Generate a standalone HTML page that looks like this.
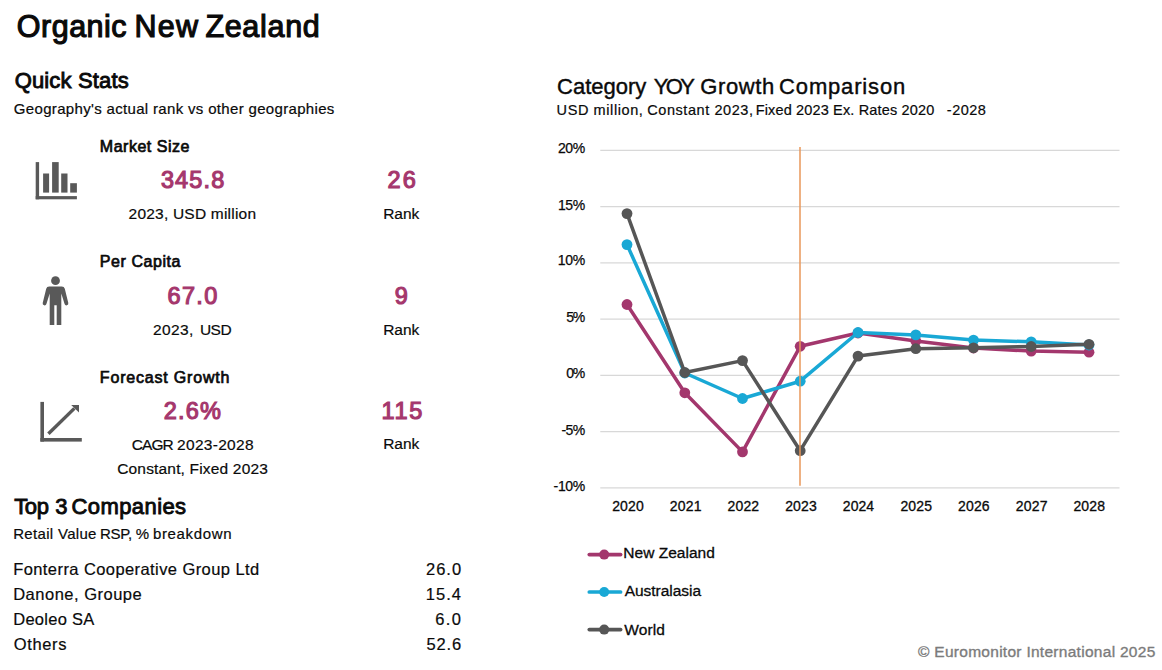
<!DOCTYPE html>
<html lang="en">
<head>
<meta charset="utf-8">
<title>Organic New Zealand</title>
<style>
html,body{margin:0;padding:0;background:#ffffff;}
body{width:1162px;height:670px;position:relative;overflow:hidden;font-family:"Liberation Sans",sans-serif;}
.chart{position:absolute;left:0;top:0;}
.t{position:absolute;white-space:pre;line-height:1;font-family:"Liberation Sans",sans-serif;}
</style>
</head>
<body>
<svg class="chart" width="1162" height="670" viewBox="0 0 1162 670">
<line x1="600.3" x2="1119.5" y1="150.4" y2="150.4" stroke="#d8d8d8" stroke-width="1.25"/>
<line x1="600.3" x2="1119.5" y1="206.65" y2="206.65" stroke="#d8d8d8" stroke-width="1.25"/>
<line x1="600.3" x2="1119.5" y1="262.9" y2="262.9" stroke="#d8d8d8" stroke-width="1.25"/>
<line x1="600.3" x2="1119.5" y1="319.15" y2="319.15" stroke="#d8d8d8" stroke-width="1.25"/>
<line x1="600.3" x2="1119.5" y1="375.4" y2="375.4" stroke="#d8d8d8" stroke-width="1.25"/>
<line x1="600.3" x2="1119.5" y1="431.65" y2="431.65" stroke="#d8d8d8" stroke-width="1.25"/>
<line x1="600.3" x2="1119.5" y1="487.9" y2="487.9" stroke="#d8d8d8" stroke-width="1.25"/>
<polyline points="627.0,304.5 684.8,392.8 742.5,451.9 800.2,346.3 858.0,333.0 915.8,341.0 973.5,348.0 1031.2,351.1 1089.0,352.2" fill="none" stroke="#a3376d" stroke-width="3.5" stroke-linejoin="round" stroke-linecap="round"/>
<circle cx="627.0" cy="304.5" r="5.4" fill="#a3376d"/>
<circle cx="684.8" cy="392.8" r="5.4" fill="#a3376d"/>
<circle cx="742.5" cy="451.9" r="5.4" fill="#a3376d"/>
<circle cx="800.2" cy="346.3" r="5.4" fill="#a3376d"/>
<circle cx="858.0" cy="333.0" r="5.4" fill="#a3376d"/>
<circle cx="915.8" cy="341.0" r="5.4" fill="#a3376d"/>
<circle cx="973.5" cy="348.0" r="5.4" fill="#a3376d"/>
<circle cx="1031.2" cy="351.1" r="5.4" fill="#a3376d"/>
<circle cx="1089.0" cy="352.2" r="5.4" fill="#a3376d"/>
<polyline points="627.0,244.6 684.8,373.0 742.5,398.5 800.2,381.2 858.0,332.5 915.8,334.9 973.5,340.1 1031.2,341.8 1089.0,345.0" fill="none" stroke="#19a8d5" stroke-width="3.5" stroke-linejoin="round" stroke-linecap="round"/>
<circle cx="627.0" cy="244.6" r="5.4" fill="#19a8d5"/>
<circle cx="684.8" cy="373.0" r="5.4" fill="#19a8d5"/>
<circle cx="742.5" cy="398.5" r="5.4" fill="#19a8d5"/>
<circle cx="800.2" cy="381.2" r="5.4" fill="#19a8d5"/>
<circle cx="858.0" cy="332.5" r="5.4" fill="#19a8d5"/>
<circle cx="915.8" cy="334.9" r="5.4" fill="#19a8d5"/>
<circle cx="973.5" cy="340.1" r="5.4" fill="#19a8d5"/>
<circle cx="1031.2" cy="341.8" r="5.4" fill="#19a8d5"/>
<circle cx="1089.0" cy="345.0" r="5.4" fill="#19a8d5"/>
<polyline points="627.0,213.6 684.8,372.5 742.5,360.6 800.2,450.7 858.0,356.1 915.8,348.7 973.5,347.8 1031.2,346.5 1089.0,344.3" fill="none" stroke="#565656" stroke-width="3.5" stroke-linejoin="round" stroke-linecap="round"/>
<circle cx="627.0" cy="213.6" r="5.4" fill="#565656"/>
<circle cx="684.8" cy="372.5" r="5.4" fill="#565656"/>
<circle cx="742.5" cy="360.6" r="5.4" fill="#565656"/>
<circle cx="800.2" cy="450.7" r="5.4" fill="#565656"/>
<circle cx="858.0" cy="356.1" r="5.4" fill="#565656"/>
<circle cx="915.8" cy="348.7" r="5.4" fill="#565656"/>
<circle cx="973.5" cy="347.8" r="5.4" fill="#565656"/>
<circle cx="1031.2" cy="346.5" r="5.4" fill="#565656"/>
<circle cx="1089.0" cy="344.3" r="5.4" fill="#565656"/>
<line x1="800" x2="800" y1="147" y2="485.7" stroke="#e8975a" stroke-width="1.5"/>
<line x1="589.3" x2="620.6" y1="554.6" y2="554.6" stroke="#a3376d" stroke-width="3.7" stroke-linecap="round"/>
<circle cx="604.2" cy="554.6" r="5" fill="#a3376d"/>
<line x1="589.3" x2="620.6" y1="592.0" y2="592.0" stroke="#19a8d5" stroke-width="3.7" stroke-linecap="round"/>
<circle cx="604.2" cy="592.0" r="5" fill="#19a8d5"/>
<line x1="589.3" x2="620.6" y1="629.6" y2="629.6" stroke="#565656" stroke-width="3.7" stroke-linecap="round"/>
<circle cx="604.2" cy="629.6" r="5" fill="#565656"/>
<g fill="#595959"><rect x="35.7" y="162.1" width="3.4" height="37.2"/><rect x="35.7" y="196.1" width="41.2" height="3.2"/><rect x="43.1" y="173.5" width="6" height="19.1"/><rect x="52.1" y="162.1" width="6.6" height="30.5"/><rect x="61.2" y="173.5" width="6.3" height="19.1"/><rect x="70.2" y="183.2" width="6.7" height="9.4"/></g>
<g fill="#595959"><circle cx="55.5" cy="280.7" r="4.4"/><path d="M49.2 286.4 H61.8 Q64.2 286.4 64.8 288.8 L68.3 303 Q68.6 304.9 66.9 305.3 Q65.2 305.7 64.6 304 L61.3 293.5 V325 H56.7 V305.2 H54.3 V325 H49.7 V293.5 L46.4 304 Q45.8 305.7 44.1 305.3 Q42.4 304.9 42.7 303 L46.2 288.8 Q46.8 286.4 49.2 286.4 Z"/></g>
<g fill="#595959"><rect x="40.4" y="401.9" width="3.6" height="39.7"/><rect x="40.4" y="438" width="41.4" height="3.6"/><path d="M47.2 432.5 L49.6 434.9 L75.6 409.6 L73.2 407.2 Z"/><path d="M71.2 405 H79 V412.6 Z"/></g>
</svg>
<span class="t" style="left:16.78px;top:11px;font-size:30.5px;letter-spacing:0.508px;color:#0a0a0a;-webkit-text-stroke:1.15px #0a0a0a;">Organic</span>
<span class="t" style="left:134.38px;top:11px;font-size:30.5px;letter-spacing:1.275px;color:#0a0a0a;-webkit-text-stroke:1.15px #0a0a0a;">New</span>
<span class="t" style="left:205.38px;top:11px;font-size:30.5px;letter-spacing:0.692px;color:#0a0a0a;-webkit-text-stroke:1.15px #0a0a0a;">Zealand</span>
<span class="t" style="left:14.65px;top:70px;font-size:22px;letter-spacing:0.160px;color:#0a0a0a;-webkit-text-stroke:0.9px #0a0a0a;">Quick Stats</span>
<span class="t" style="left:13.80px;top:101px;font-size:15px;letter-spacing:0.330px;color:#0a0a0a;-webkit-text-stroke:0.2px #0a0a0a;">Geography's actual rank vs other geographies</span>
<span class="t" style="left:99.85px;top:139px;font-size:16px;letter-spacing:0.510px;color:#0a0a0a;-webkit-text-stroke:0.7px #0a0a0a;">Market Size</span>
<span class="t" style="left:160.88px;top:169px;font-size:23.5px;letter-spacing:1.163px;color:#a5376d;-webkit-text-stroke:1.15px #a5376d;">345.8</span>
<span class="t" style="left:387.38px;top:169px;font-size:23.5px;letter-spacing:2.250px;color:#a5376d;-webkit-text-stroke:1.15px #a5376d;">26</span>
<span class="t" style="left:128.60px;top:206px;font-size:15.5px;letter-spacing:0.212px;color:#0a0a0a;-webkit-text-stroke:0.2px #0a0a0a;">2023, USD million</span>
<span class="t" style="left:383.20px;top:206px;font-size:15.5px;letter-spacing:-0.033px;color:#0a0a0a;-webkit-text-stroke:0.2px #0a0a0a;">Rank</span>
<span class="t" style="left:99.85px;top:254px;font-size:16px;letter-spacing:0.556px;color:#0a0a0a;-webkit-text-stroke:0.7px #0a0a0a;">Per Capita</span>
<span class="t" style="left:167.57px;top:285px;font-size:23.5px;letter-spacing:1.317px;color:#a5376d;-webkit-text-stroke:1.15px #a5376d;">67.0</span>
<span class="t" style="left:394.78px;top:285px;font-size:23.5px;letter-spacing:0.000px;color:#a5376d;-webkit-text-stroke:1.15px #a5376d;">9</span>
<span class="t" style="left:153.10px;top:322px;font-size:15.5px;letter-spacing:0.350px;color:#0a0a0a;-webkit-text-stroke:0.2px #0a0a0a;">2023,</span>
<span class="t" style="left:199.90px;top:322px;font-size:15.5px;letter-spacing:-0.500px;color:#0a0a0a;-webkit-text-stroke:0.2px #0a0a0a;">USD</span>
<span class="t" style="left:383.20px;top:322px;font-size:15.5px;letter-spacing:-0.033px;color:#0a0a0a;-webkit-text-stroke:0.2px #0a0a0a;">Rank</span>
<span class="t" style="left:99.85px;top:370px;font-size:16px;letter-spacing:0.807px;color:#0a0a0a;-webkit-text-stroke:0.7px #0a0a0a;">Forecast Growth</span>
<span class="t" style="left:163.68px;top:400px;font-size:23.5px;letter-spacing:1.217px;color:#a5376d;-webkit-text-stroke:1.15px #a5376d;">2.6%</span>
<span class="t" style="left:381.57px;top:400px;font-size:23.5px;letter-spacing:1.675px;color:#a5376d;-webkit-text-stroke:1.15px #a5376d;">115</span>
<span class="t" style="left:131.70px;top:437px;font-size:15.5px;letter-spacing:-0.900px;color:#0a0a0a;-webkit-text-stroke:0.2px #0a0a0a;">CAGR</span>
<span class="t" style="left:177.10px;top:437px;font-size:15.5px;letter-spacing:0.287px;color:#0a0a0a;-webkit-text-stroke:0.2px #0a0a0a;">2023-2028</span>
<span class="t" style="left:383.20px;top:436px;font-size:15.5px;letter-spacing:-0.033px;color:#0a0a0a;-webkit-text-stroke:0.2px #0a0a0a;">Rank</span>
<span class="t" style="left:117.20px;top:461px;font-size:15.5px;letter-spacing:0.174px;color:#0a0a0a;-webkit-text-stroke:0.2px #0a0a0a;">Constant, Fixed 2023</span>
<span class="t" style="left:14.25px;top:496px;font-size:22px;letter-spacing:-0.400px;color:#0a0a0a;-webkit-text-stroke:0.9px #0a0a0a;">Top</span>
<span class="t" style="left:55.25px;top:496px;font-size:22px;letter-spacing:0.000px;color:#0a0a0a;-webkit-text-stroke:0.9px #0a0a0a;">3</span>
<span class="t" style="left:71.45px;top:496px;font-size:22px;letter-spacing:0.425px;color:#0a0a0a;-webkit-text-stroke:0.9px #0a0a0a;">Companies</span>
<span class="t" style="left:13.20px;top:526px;font-size:15px;letter-spacing:0.318px;color:#0a0a0a;-webkit-text-stroke:0.2px #0a0a0a;">Retail Value</span>
<span class="t" style="left:100.00px;top:526px;font-size:15px;letter-spacing:-0.267px;color:#0a0a0a;-webkit-text-stroke:0.2px #0a0a0a;">RSP,</span>
<span class="t" style="left:135.80px;top:526px;font-size:15px;letter-spacing:0.000px;color:#0a0a0a;-webkit-text-stroke:0.2px #0a0a0a;">%</span>
<span class="t" style="left:152.90px;top:526px;font-size:15px;letter-spacing:0.650px;color:#0a0a0a;-webkit-text-stroke:0.2px #0a0a0a;">breakdown</span>
<span class="t" style="left:13.20px;top:561px;font-size:16.5px;letter-spacing:0.417px;color:#0a0a0a;-webkit-text-stroke:0.2px #0a0a0a;">Fonterra Cooperative Group Ltd</span>
<span class="t" style="left:426.00px;top:561px;font-size:16.5px;letter-spacing:1.000px;color:#0a0a0a;-webkit-text-stroke:0.2px #0a0a0a;">26.0</span>
<span class="t" style="left:13.20px;top:586px;font-size:16.5px;letter-spacing:0.500px;color:#0a0a0a;-webkit-text-stroke:0.2px #0a0a0a;">Danone, Groupe</span>
<span class="t" style="left:425.80px;top:586px;font-size:16.5px;letter-spacing:1.000px;color:#0a0a0a;-webkit-text-stroke:0.2px #0a0a0a;">15.4</span>
<span class="t" style="left:13.20px;top:611px;font-size:16.5px;letter-spacing:0.287px;color:#0a0a0a;-webkit-text-stroke:0.2px #0a0a0a;">Deoleo SA</span>
<span class="t" style="left:435.30px;top:611px;font-size:16.5px;letter-spacing:1.400px;color:#0a0a0a;-webkit-text-stroke:0.2px #0a0a0a;">6.0</span>
<span class="t" style="left:13.80px;top:636px;font-size:16.5px;letter-spacing:0.620px;color:#0a0a0a;-webkit-text-stroke:0.2px #0a0a0a;">Others</span>
<span class="t" style="left:426.40px;top:636px;font-size:16.5px;letter-spacing:0.867px;color:#0a0a0a;-webkit-text-stroke:0.2px #0a0a0a;">52.6</span>
<span class="t" style="left:557.10px;top:76px;font-size:22px;letter-spacing:-0.014px;color:#0a0a0a;-webkit-text-stroke:0.4px #0a0a0a;">Category</span>
<span class="t" style="left:653.70px;top:76px;font-size:22px;letter-spacing:-2.650px;color:#0a0a0a;-webkit-text-stroke:0.4px #0a0a0a;">YOY</span>
<span class="t" style="left:700.30px;top:76px;font-size:22px;letter-spacing:0.600px;color:#0a0a0a;-webkit-text-stroke:0.4px #0a0a0a;">Growth</span>
<span class="t" style="left:779.10px;top:76px;font-size:22px;letter-spacing:0.833px;color:#0a0a0a;-webkit-text-stroke:0.4px #0a0a0a;">Comparison</span>
<span class="t" style="left:556.60px;top:103px;font-size:14.5px;letter-spacing:0.591px;color:#0a0a0a;-webkit-text-stroke:0.2px #0a0a0a;">USD million,</span>
<span class="t" style="left:647.20px;top:103px;font-size:14.5px;letter-spacing:0.577px;color:#0a0a0a;-webkit-text-stroke:0.2px #0a0a0a;">Constant 2023,</span>
<span class="t" style="left:755.70px;top:103px;font-size:14.5px;letter-spacing:0.150px;color:#0a0a0a;-webkit-text-stroke:0.2px #0a0a0a;">Fixed 2023 Ex. Rates 2020</span>
<span class="t" style="left:946.80px;top:103px;font-size:14.5px;letter-spacing:0.500px;color:#0a0a0a;-webkit-text-stroke:0.2px #0a0a0a;">-2028</span>
<span class="t" style="left:557.92px;top:141px;font-size:14px;letter-spacing:-0.425px;color:#0a0a0a;-webkit-text-stroke:0.25px #0a0a0a;">20%</span>
<span class="t" style="left:557.93px;top:198px;font-size:14px;letter-spacing:-0.425px;color:#0a0a0a;-webkit-text-stroke:0.25px #0a0a0a;">15%</span>
<span class="t" style="left:557.73px;top:253px;font-size:14px;letter-spacing:-0.325px;color:#0a0a0a;-webkit-text-stroke:0.25px #0a0a0a;">10%</span>
<span class="t" style="left:566.23px;top:310px;font-size:14px;letter-spacing:-1.350px;color:#0a0a0a;-webkit-text-stroke:0.25px #0a0a0a;">5%</span>
<span class="t" style="left:566.33px;top:366px;font-size:14px;letter-spacing:-1.450px;color:#0a0a0a;-webkit-text-stroke:0.25px #0a0a0a;">0%</span>
<span class="t" style="left:561.43px;top:423px;font-size:14px;letter-spacing:-0.575px;color:#0a0a0a;-webkit-text-stroke:0.25px #0a0a0a;">-5%</span>
<span class="t" style="left:553.62px;top:479px;font-size:14px;letter-spacing:-0.383px;color:#0a0a0a;-webkit-text-stroke:0.25px #0a0a0a;">-10%</span>
<span class="t" style="left:612.15px;top:499px;font-size:14px;letter-spacing:0.133px;color:#0a0a0a;-webkit-text-stroke:0.3px #0a0a0a;">2020</span>
<span class="t" style="left:669.81px;top:499px;font-size:14px;letter-spacing:0.167px;color:#0a0a0a;-webkit-text-stroke:0.3px #0a0a0a;">2021</span>
<span class="t" style="left:727.47px;top:499px;font-size:14px;letter-spacing:0.167px;color:#0a0a0a;-webkit-text-stroke:0.3px #0a0a0a;">2022</span>
<span class="t" style="left:785.13px;top:499px;font-size:14px;letter-spacing:0.133px;color:#0a0a0a;-webkit-text-stroke:0.3px #0a0a0a;">2023</span>
<span class="t" style="left:842.79px;top:499px;font-size:14px;letter-spacing:0.067px;color:#0a0a0a;-webkit-text-stroke:0.3px #0a0a0a;">2024</span>
<span class="t" style="left:900.45px;top:499px;font-size:14px;letter-spacing:0.133px;color:#0a0a0a;-webkit-text-stroke:0.3px #0a0a0a;">2025</span>
<span class="t" style="left:958.11px;top:499px;font-size:14px;letter-spacing:0.133px;color:#0a0a0a;-webkit-text-stroke:0.3px #0a0a0a;">2026</span>
<span class="t" style="left:1015.77px;top:499px;font-size:14px;letter-spacing:0.167px;color:#0a0a0a;-webkit-text-stroke:0.3px #0a0a0a;">2027</span>
<span class="t" style="left:1073.43px;top:499px;font-size:14px;letter-spacing:0.133px;color:#0a0a0a;-webkit-text-stroke:0.3px #0a0a0a;">2028</span>
<span class="t" style="left:623.35px;top:545px;font-size:15.5px;letter-spacing:0.020px;color:#0a0a0a;-webkit-text-stroke:0.3px #0a0a0a;">New Zealand</span>
<span class="t" style="left:624.65px;top:583px;font-size:15.5px;letter-spacing:-0.030px;color:#0a0a0a;-webkit-text-stroke:0.3px #0a0a0a;">Australasia</span>
<span class="t" style="left:624.25px;top:622px;font-size:15.5px;letter-spacing:0.100px;color:#0a0a0a;-webkit-text-stroke:0.3px #0a0a0a;">World</span>
<span class="t" style="left:917.98px;top:644px;font-size:15.5px;letter-spacing:0.282px;color:#7b7b7b;-webkit-text-stroke:0.35px #7b7b7b;">© Euromonitor International 2025</span>
</body>
</html>
